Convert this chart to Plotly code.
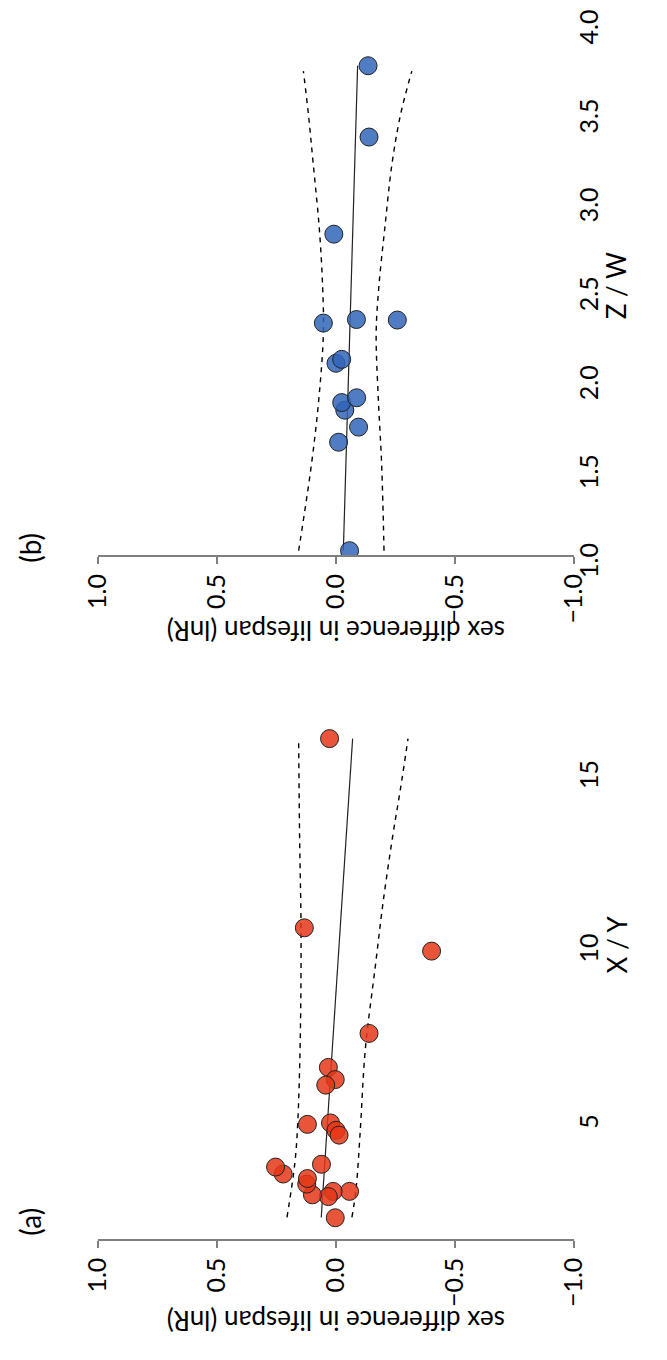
import plotly.graph_objects as go

# ---- panel (a): X / Y ratio vs sex difference in lifespan (lnR) ----
xy_ratio = [2.05, 2.81, 2.81, 2.66, 2.71, 3.02, 3.18, 3.31, 3.51, 3.59, 4.74,
            4.78, 4.57, 4.43, 6.38, 6.03, 5.87, 7.36, 15.85, 10.40, 9.73]
xy_lnr = [0.003, -0.057, 0.012, 0.032, 0.099, 0.123, 0.120, 0.222, 0.254, 0.061,
          0.120, 0.023, 0.000, -0.013, 0.032, 0.003, 0.043, -0.139, 0.027, 0.133, -0.402]

xy_fit_x = [2.06, 15.85]
xy_fit_y = [0.062, -0.070]

xy_upper_x = [2.06, 3.62, 4.75, 7.29, 10.40, 13.02, 15.85]
xy_upper_y = [0.206, 0.173, 0.161, 0.150, 0.147, 0.153, 0.157]
xy_lower_x = [2.06, 2.85, 4.55, 6.44, 7.29, 9.27, 11.13, 13.02, 14.44, 15.85]
xy_lower_y = [-0.067, -0.084, -0.102, -0.118, -0.129, -0.165, -0.198, -0.238, -0.272, -0.303]

# ---- panel (b): Z / W ratio vs sex difference in lifespan (lnR) ----
zw_ratio = [1.02, 1.63, 1.715, 1.81, 1.853, 1.88, 2.074, 2.096, 2.30, 2.32, 2.317,
            2.80, 3.346, 3.747]
zw_lnr = [-0.057, -0.011, -0.095, -0.037, -0.024, -0.087, 0.000, -0.024, 0.053,
          -0.086, -0.258, 0.009, -0.139, -0.135]

zw_fit_x = [1.02, 3.747]
zw_fit_y = [-0.031, -0.091]

zw_upper_x = [1.02, 1.507, 1.875, 2.243, 2.50, 2.83, 3.20, 3.475, 3.717]
zw_upper_y = [0.157, 0.103, 0.072, 0.053, 0.056, 0.070, 0.096, 0.116, 0.137]
zw_lower_x = [1.02, 1.507, 1.875, 2.243, 2.50, 2.83, 3.20, 3.475, 3.717]
zw_lower_y = [-0.202, -0.192, -0.178, -0.169, -0.180, -0.205, -0.236, -0.272, -0.319]

lnr_ticks = [1.0, 0.5, 0.0, -0.5, -1.0]
xy_ticks = [5, 10, 15]
zw_ticks = [1.0, 1.5, 2.0, 2.5, 3.0, 3.5, 4.0]

W, H = 667, 1360
FONT = "Lato"
GREY = "#7f7f7f"
RED = "rgba(228,55,24,0.85)"
BLUE = "rgba(48,101,185,0.85)"
TICK_FS = 25
TITLE_FS = 26


def px(x):
    return x / W


def py(y):
    return (H - y) / H


fig = go.Figure()


def add_panel(xa, ya, ratio, lnr, fx, fy, ux, uy, lx, ly, color):
    # the ratio runs up the page, lnR runs across it
    for bx, by in ((ux, uy), (lx, ly)):
        fig.add_trace(go.Scatter(x=by, y=bx, mode="lines", xaxis=xa, yaxis=ya,
                                 line=dict(color="black", width=1.4, dash="5px,5px",
                                           shape="spline", smoothing=1.0),
                                 showlegend=False, hoverinfo="skip"))
    fig.add_trace(go.Scatter(x=fy, y=fx, mode="lines", xaxis=xa, yaxis=ya,
                             line=dict(color="#222222", width=1.2),
                             showlegend=False, hoverinfo="skip"))
    fig.add_trace(go.Scatter(x=lnr, y=ratio, mode="markers", xaxis=xa, yaxis=ya,
                             marker=dict(size=18, color=color,
                                         line=dict(color="#222222", width=1)),
                             showlegend=False))


add_panel("x", "y", xy_ratio, xy_lnr, xy_fit_x, xy_fit_y,
          xy_upper_x, xy_upper_y, xy_lower_x, xy_lower_y, RED)
add_panel("x2", "y2", zw_ratio, zw_lnr, zw_fit_x, zw_fit_y,
          zw_upper_x, zw_upper_y, zw_lower_x, zw_lower_y, BLUE)

lnr_axis = dict(domain=[px(85), px(583)], range=[1.0, -1.0], tickvals=lnr_ticks,
                tickformat=".1f", tickangle=-90, ticks="outside", ticklen=7,
                tickcolor=GREY, tickwidth=1.5, showline=True, linecolor=GREY,
                linewidth=1.5, showgrid=False, zeroline=False,
                tickfont=dict(family=FONT, size=TICK_FS, color="black"))

ratio_axis = dict(anchor="free", side="right", position=px(581), showline=False,
                  ticks="", tickangle=-90, showgrid=False, zeroline=False,
                  ticklabeloverflow="allow", ticklabelshift=10,
                  tickfont=dict(family=FONT, size=TICK_FS, color="black"))

fig.update_layout(
    width=W, height=H, margin=dict(l=0, r=0, t=0, b=0),
    paper_bgcolor="white", plot_bgcolor="white",
    xaxis=dict(lnr_axis, anchor="y"),
    yaxis=dict(ratio_axis, domain=[py(1260), py(705)], range=[1.441, 17.12],
               tickvals=xy_ticks),
    xaxis2=dict(lnr_axis, anchor="y2"),
    yaxis2=dict(ratio_axis, domain=[py(563), py(10)], range=[0.9945, 4.0447],
                tickvals=zw_ticks, tickformat=".1f"),
)

notes = [
    ("sex difference in lifespan (lnR)", 334, 1343, 180, TITLE_FS),
    ("X / Y", 628, 960, -90, TITLE_FS),
    ("(a)", 14, 1242, -90, 28),
    ("sex difference in lifespan (lnR)", 334, 640, 180, TITLE_FS),
    ("Z / W", 628, 288, -90, TITLE_FS),
    ("(b)", 14, 555, -90, 28),
]
for text, x, y, ang, size in notes:
    fig.add_annotation(text=text, x=px(x), y=py(y), xref="paper", yref="paper",
                       showarrow=False, textangle=ang,
                       font=dict(family=FONT, size=size, color="black"),
                       xanchor="center", yanchor="middle")

fig.write_html("out.html")
